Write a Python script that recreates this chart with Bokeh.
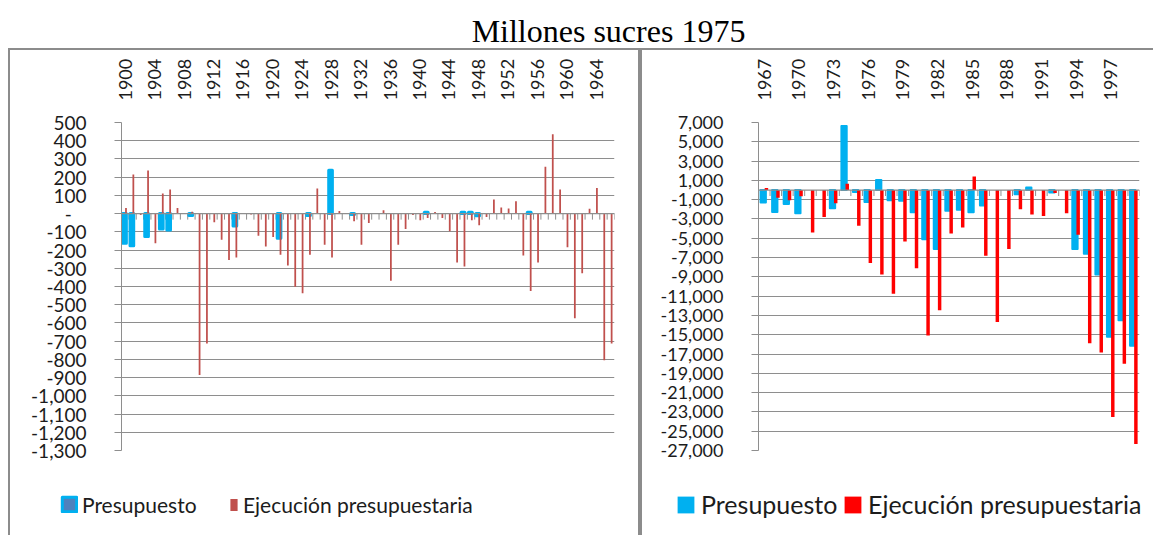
import math
import numpy as np
from bokeh.plotting import figure
from bokeh.models import (Range1d, LinearAxis, FixedTicker, Legend, LegendItem,
                          ColumnDataSource, Span, Grid, Spacer)
from bokeh.layouts import column, row
from bokeh.embed import file_html
from bokeh.resources import INLINE
from bokeh.core.properties import value

TITLE = "Millones sucres 1975"
LEGEND_LABELS = ["Presupuesto", "Ejecución presupuestaria"]

# ---- left chart: 1900-1966 ----
years_a = list(range(1900, 1967))
ejec_a = [31, 215, -7, 237, -162, 110, 132, 31, 0, 10,
          -885, -713, -48, -143, -254, -241, 0, -5, -121, -180,
          -129, -226, -285, -401, -437, -226, 138, -171, -241, 15,
          0, -42, -171, -51, 0, 18, -368, -171, -85, -7,
          -37, -24, 9, -24, -97, -268, -290, -37, -64, -18,
          77, 33, 28, 68, -230, -425, -268, 257, 436, 132,
          -184, -574, -327, 26, 140, -805, -713]
presup_a_map = {1900: -163, 1901: -176, 1903: -126, 1905: -85, 1906: -90,
                1909: -10, 1915: -68, 1921: -135, 1925: -10, 1928: 238,
                1931: -5, 1941: 8, 1946: 8, 1947: 8, 1948: -12, 1955: 8}
presup_a = [presup_a_map.get(y) for y in years_a]
yticks_a = list(range(500, -1301, -100))
label_years_a = years_a[::4]

# ---- right chart: 1967-1999 ----
years_b = list(range(1967, 2000))
presup_b = [-1300, -2270, -1450, -2400, None, None, -1900, 6650, -200, -1250,
            1050, -1050, -1100, -2300, -5100, -6100, -2150, -2050, -2300, -1600,
            None, None, -450, 250, None, -250, None, -6100, -6600, -8750,
            -15200, -13500, -16150]
ejec_b = [200, -790, -1065, -653, -4399, -2784, -1375, 653, -3711, -7560,
          -8763, -10753, -5330, -8110, -15085, -12474, -4502, -3883, 1409, -6804,
          -13677, -6117, -1993, -2543, -2680, -300, -2405, -4639, -15876, -16838,
          -23540, -18010, -26320]
yticks_b = list(range(7000, -27001, -2000))
label_years_b = years_b[::3]

FONT = "Lato"
GRID = "#8e8e8e"
TXT = "#1c1c1c"
BORDER = "2px solid #8c8c8c"
BLUE = "#00B0F0"
RED_A = "#C0504D"
RED_B = "#FF0000"


def fmt_a(v):
    return "-\u00a0\u00a0\u00a0" if v == 0 else f"{v:,}"


def make_chart(years, presup, ejec, yticks, label_years, fmt, blue, red,
               blue_w, blue_off, blue_lw, red_w, red_off, width, height,
               mb, tick_len, ylab_size, styles):
    n = len(years)
    p = figure(width=width, height=height, output_backend="svg",
               toolbar_location=None, title=None,
               x_range=Range1d(-0.5, n - 0.5),
               y_range=Range1d(min(yticks), max(yticks)),
               x_axis_location=None, y_axis_location=None,
               min_border_left=mb[0], min_border_right=mb[1],
               min_border_top=mb[2], min_border_bottom=mb[3],
               outline_line_color=None, styles=styles)
    p.grid.visible = False
    idx = [years.index(y) for y in label_years]
    xax = LinearAxis(ticker=FixedTicker(ticks=idx),
                     major_label_overrides={i: str(years[i]) for i in idx},
                     major_label_orientation=math.pi / 2,
                     axis_line_color=None, major_tick_line_color=None,
                     minor_tick_line_color=None, major_label_standoff=16,
                     major_label_text_font=FONT,
                     major_label_text_font_size="18px",
                     major_label_text_color=TXT)
    p.add_layout(xax, "above")
    yt = FixedTicker(ticks=yticks)
    yax = LinearAxis(ticker=yt,
                     major_label_overrides={t: fmt(t) for t in yticks},
                     axis_line_color=GRID, major_tick_line_color=GRID,
                     major_tick_out=7, major_tick_in=0,
                     minor_tick_line_color=None, major_label_standoff=28,
                     major_label_text_font=FONT,
                     major_label_text_font_size=ylab_size,
                     major_label_text_color=TXT)
    p.add_layout(yax, "left")
    p.add_layout(Grid(dimension=1, ticker=yt, grid_line_color=GRID,
                      grid_line_width=1.2))
    p.add_layout(Span(location=0, dimension="width", line_color=GRID,
                      line_width=1.2))
    bounds = [i - 0.5 for i in range(n + 1)]
    p.segment(x0=bounds, x1=bounds, y0=[0] * len(bounds),
              y1=[-tick_len] * len(bounds), line_color=GRID, line_width=1)
    bsrc = ColumnDataSource(dict(
        x=[i + blue_off for i in range(n)],
        top=[np.nan if v is None else v for v in presup]))
    p.vbar(x="x", top="top", bottom=0, width=blue_w, source=bsrc,
           fill_color=blue, line_color=blue, line_width=blue_lw,
           line_join="round")
    rsrc = ColumnDataSource(dict(x=[i + red_off for i in range(n)], top=ejec))
    p.vbar(x="x", top="top", bottom=0, width=red_w, source=rsrc,
           fill_color=red, line_color=None)
    return p


def legend_fig(width, height, styles, entries):
    """entries: (label, fill, line, line_width, loc, gw, gh, standoff, size, lh)"""
    f = figure(width=width, height=height, output_backend="svg",
               toolbar_location=None, title=None,
               x_range=Range1d(0, 1), y_range=Range1d(0, 1),
               x_axis_location=None, y_axis_location=None, min_border=0,
               outline_line_color=None, styles=styles)
    f.grid.visible = False
    for (label, fill, line, lw, loc, gw, gh, standoff, size, lh) in entries:
        # swatch-only renderer: its single box lies outside the visible range
        r = f.quad(left=[5], right=[6], bottom=[5], top=[6], fill_color=fill,
                   line_color=line, line_width=lw, line_join="round")
        f.add_layout(Legend(items=[LegendItem(label=label, renderers=[r])],
                            location=loc, orientation="horizontal",
                            glyph_width=gw, glyph_height=gh,
                            label_standoff=standoff, padding=0, margin=0,
                            spacing=0, label_height=lh, label_width=10,
                            border_line_color=None, background_fill_alpha=0,
                            label_text_font=FONT, label_text_font_size=size,
                            label_text_color=TXT))
    return f


TH = 48          # title strip height
CH = 422         # chart element height (incl. 2px top border)
LG = 65          # legend strip height
WA, WB = 632, 513

pA = make_chart(years_a, presup_a, ejec_a, yticks_a, label_years_a, fmt_a,
                BLUE, RED_A, 0.5, -0.09, 3, 0.24, 0.11, WA, CH,
                (111, 28, 72, CH - 2 - 72 - 326), 33, "19px",
                {"border-top": BORDER, "border-left": BORDER,
                 "border-right": BORDER})
pB = make_chart(years_b, presup_b, ejec_b, yticks_b, label_years_b,
                lambda v: f"{v:,}",
                BLUE, RED_B, 0.46, -0.09, 2, 0.3, 0.187, WB, CH,
                (116, 16, 70, CH - 2 - 70 - 330), 620, "18px",
                {"border-top": BORDER, "border-left": BORDER})

lA = legend_fig(WA, LG, {"border-left": BORDER, "border-right": BORDER}, [
    (LEGEND_LABELS[0], "#4F81BD", BLUE, 3, (50, 18), 18, 18, 4, "21px", 26),
    (LEGEND_LABELS[1], RED_A, None, 0, (219, 18), 9, 15, 5, "21px", 26),
])
lB = legend_fig(WB, LG, {"border-left": BORDER}, [
    (LEGEND_LABELS[0], BLUE, None, 0, (33, 16), 21, 21, 5, "25px", 30),
    (LEGEND_LABELS[1], RED_B, None, 0, (200, 16), 21, 21, 5, "25px", 30),
])

pT = figure(width=1153, height=TH, output_backend="svg", toolbar_location=None,
            title=None, x_range=Range1d(0, 1153), y_range=Range1d(0, TH),
            x_axis_location=None, y_axis_location=None, min_border=0,
            outline_line_color=None)
pT.grid.visible = False
pT.text(x=[608], y=[TH - 30], text=[TITLE], text_font=value("Liberation Serif"),
        text_font_size="32px", text_align="center",
        text_baseline="middle", text_color="black")

layout = column(pT,
                row(Spacer(width=8, height=10), pA, pB),
                row(Spacer(width=8, height=10), lA, lB))
open("out.html", "w").write(file_html(layout, INLINE))
